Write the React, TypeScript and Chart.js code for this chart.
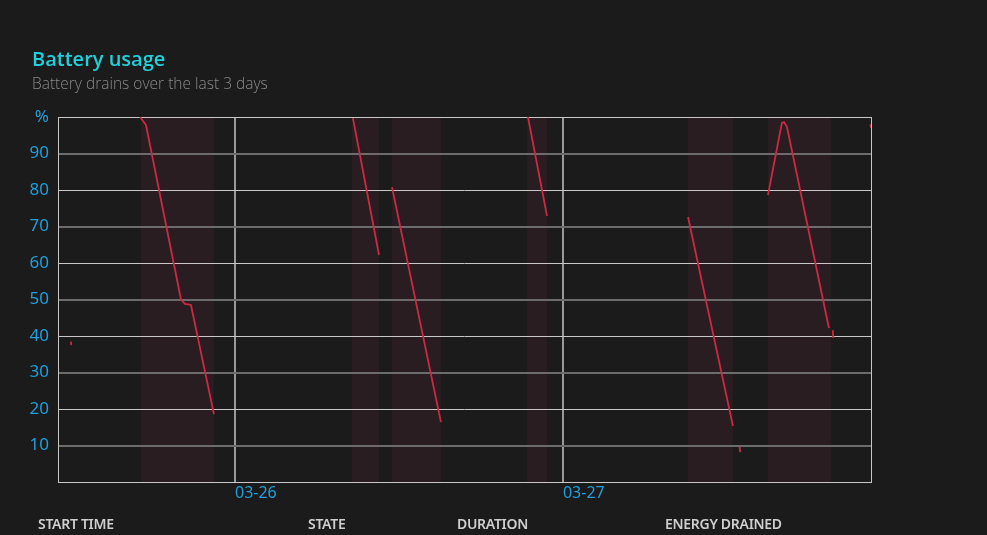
import React, { useEffect, useRef } from "react";
import { Chart, registerables } from "chart.js";

Chart.register(...registerables);

// x values are hours relative to 03-26 00:00
const xMin = -12.95;
const xMax = 46.54;
const xTickHours = [0, 24];
const xTickLabels = ["03-26", "03-27"];

const yTicksLabels: Record<number, string> = { 100: "%", 0: "" };

// battery level trace (null = break)
const hours: (number | null)[] = [
  -12.0, -11.98, null,
  -6.95, -6.51, -3.95, -3.66, -3.22, -1.54, null,
  8.63, 10.54, null,
  11.49, 15.07, null,
  21.44, 22.83, null,
  33.15, 36.44, null,
  36.93, 36.97, null,
  39.0, 40.02, 40.17, 40.39, 43.46, null,
  43.74, 43.78, null,
  46.5, 46.54,
];
const pct: (number | null)[] = [
  38.5, 37.5, null,
  100, 97.8, 50, 48.8, 48.5, 18.6, null,
  99.7, 62.2, null,
  80.8, 16.4, null,
  100, 72.9, null,
  72.6, 15.3, null,
  9.6, 8.2, null,
  78.6, 98.4, 98.6, 97.3, 42.2, null,
  41.6, 39.5, null,
  98, 97,
];

// drain periods (shaded)
const shadeStart = [-6.88, 8.56, 11.49, 21.37, 33.15, 39.0];
const shadeEnd = [-1.54, 10.54, 15.07, 22.83, 36.44, 43.61];

const headers = ["START TIME", "STATE", "DURATION", "ENERGY DRAINED"];
const headerX = [38, 308, 457, 665];

const BG = "#1b1b1b";

export default function App() {
  const ref = useRef<HTMLCanvasElement | null>(null);

  useEffect(() => {
    if (!ref.current) return;
    const points = hours.map((h, i) => ({
      x: h ?? (hours[i - 1] as number),
      y: pct[i],
    }));

    const shadePlugin = {
      id: "shade",
      beforeDraw(chart: any) {
        const { ctx, chartArea, scales } = chart;
        ctx.save();
        ctx.fillStyle = "rgb(41,29,34)";
        for (let i = 0; i < shadeStart.length; i++) {
          const a = scales.x.getPixelForValue(shadeStart[i]);
          const b = scales.x.getPixelForValue(shadeEnd[i]);
          ctx.fillRect(a, chartArea.top, b - a, chartArea.bottom - chartArea.top);
        }
        ctx.restore();
      },
      beforeDatasetsDraw(chart: any) {
        const { ctx, chartArea } = chart;
        ctx.save();
        ctx.strokeStyle = "#c8c8c8";
        ctx.lineWidth = 1;
        ctx.strokeRect(
          Math.round(chartArea.left) + 0.5,
          Math.round(chartArea.top) + 0.5,
          Math.round(chartArea.right - chartArea.left),
          Math.round(chartArea.bottom - chartArea.top)
        );
        ctx.restore();
      },
    };

    const chart = new Chart(ref.current, {
      type: "line",
      data: {
        datasets: [
          {
            data: points as any,
            borderColor: "#cc2a42",
            borderWidth: 1.8,
            pointRadius: 0,
            spanGaps: false,
            tension: 0,
          },
        ],
      },
      options: {
        responsive: false,
        animation: false,
        layout: { padding: { top: 117, right: 116, bottom: 23, left: 0 } },
        plugins: { legend: { display: false }, tooltip: { enabled: false } },
        scales: {
          x: {
            type: "linear",
            min: xMin,
            max: xMax,
            afterBuildTicks: (s: any) => {
              s.ticks = xTickHours.map((v) => ({ value: v }));
            },
            afterFit: (s: any) => {
              s.height = 30;
            },
            ticks: {
              align: "start",
              color: "#1f9fdc",
              padding: 2,
              font: { family: "Noto Sans", size: 16 },
              callback: (_v: any, i: number) => xTickLabels[i],
            },
            grid: { color: "#9a9a9a", lineWidth: 2, drawTicks: false },
            border: { display: false },
          },
          y: {
            min: 0,
            max: 100,
            afterFit: (s: any) => {
              s.width = 58;
            },
            ticks: {
              stepSize: 10,
              color: "#1f9fdc",
              padding: 9,
              font: { family: "Noto Sans", size: 17 },
              callback: (v: any) =>
                yTicksLabels[v] !== undefined ? yTicksLabels[v] : String(v),
            },
            grid: {
              drawTicks: false,
              color: (c: any) =>
                c.tick && c.tick.value % 20 === 0 ? "#c8c8c8" : "#6c6c6c",
              lineWidth: (c: any) =>
                c.tick && c.tick.value % 20 === 0 ? 1 : 2,
            },
            border: { display: false },
          },
        },
      },
      plugins: [shadePlugin],
    });
    return () => chart.destroy();
  }, []);

  return (
    <div
      style={{
        position: "fixed",
        left: 0,
        top: 0,
        width: 987,
        height: 535,
        background: BG,
        overflow: "hidden",
      }}
    >
      <canvas
        ref={ref}
        width={987}
        height={535}
        style={{ position: "absolute", left: 0, top: 0 }}
      />
      <div
        style={{
          position: "absolute",
          left: 32,
          top: 45,
          fontFamily: "Open Sans",
          fontWeight: 600,
          fontSize: 20,
          color: "#22d0dc",
          whiteSpace: "nowrap",
        }}
      >
        Battery usage
      </div>
      <div
        style={{
          position: "absolute",
          left: 32,
          top: 72,
          fontFamily: "Open Sans",
          fontWeight: 300,
          fontSize: 15.5,
          color: "#8a8a8a",
          whiteSpace: "nowrap",
        }}
      >
        Battery drains over the last 3 days
      </div>
      {headers.map((h, i) => (
        <div
          key={h}
          style={{
            position: "absolute",
            left: headerX[i],
            top: 514,
            fontFamily: "Noto Sans",
            fontWeight: 600,
            fontSize: 14,
            letterSpacing: -0.3,
            color: "#cfcfcf",
            whiteSpace: "nowrap",
          }}
        >
          {h}
        </div>
      ))}
    </div>
  );
}
